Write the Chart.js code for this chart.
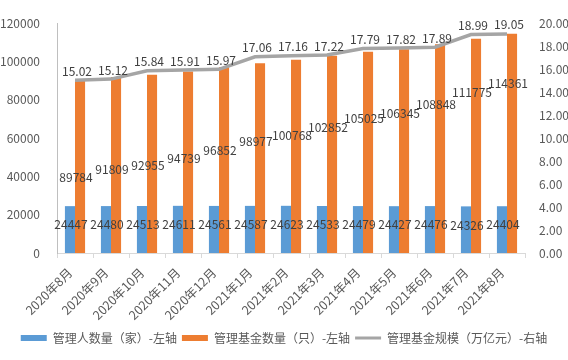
<!DOCTYPE html>
<html>
<head>
<meta charset="utf-8">
<script src="https://cdn.jsdelivr.net/npm/chart.js@4/dist/chart.umd.min.js"></script>
<style>
  html, body { margin: 0; padding: 0; background: #fff; }
  #wrap { width: 568px; height: 360px; }
</style>
</head>
<body>
<div id="wrap"><canvas id="chart"></canvas></div>
<script>
// data
const months = ['2020年8月', '2020年9月', '2020年10月', '2020年11月', '2020年12月', '2021年1月',
  '2021年2月', '2021年3月', '2021年4月', '2021年5月', '2021年6月', '2021年7月', '2021年8月'];
const managerCount = [24447, 24480, 24513, 24611, 24561, 24587, 24623, 24533, 24479, 24427, 24476, 24326, 24404];
const fundCount = [89784, 91809, 92955, 94739, 96852, 98977, 100768, 102852, 105025, 106345, 108848, 111775, 114361];
const fundScale = [15.02, 15.12, 15.84, 15.91, 15.97, 17.06, 17.16, 17.22, 17.79, 17.82, 17.89, 18.99, 19.05];
const seriesNames = ['管理人数量（家）-左轴', '管理基金数量（只）-左轴', '管理基金规模（万亿元）-右轴'];

const FONT = '"Noto Sans CJK SC", "Noto Sans", sans-serif';
const TEXT = '#595959';

// value labels, placed roughly where the original has them
const labelPlugin = {
  id: 'valueLabels',
  afterDatasetsDraw(chart) {
    const {ctx, scales: {x, y}} = chart;
    ctx.save();
    ctx.font = '12px ' + FONT;
    ctx.fillStyle = '#404040';
    ctx.textAlign = 'center';
    ctx.textBaseline = 'middle';

    chart.getDatasetMeta(0).data.forEach((bar, i) => {
      ctx.fillText(String(managerCount[i]), bar.x + 1, y.getPixelForValue(managerCount[i] * 0.6));
    });
    chart.getDatasetMeta(1).data.forEach((bar, i) => {
      ctx.fillText(String(fundCount[i]), x.getPixelForValue(i) + 1, y.getPixelForValue(fundCount[i] * 2 - 140000));
    });
    ctx.textBaseline = 'bottom';
    chart.getDatasetMeta(2).data.forEach((pt, i) => {
      ctx.fillText(fundScale[i].toFixed(2), pt.x + 2, pt.y - 3);
    });
    ctx.restore();
  }
};

const ctx = document.getElementById('chart');
new Chart(ctx, {
  type: 'bar',
  data: {
    labels: months,
    datasets: [
      {
        label: seriesNames[0],
        data: managerCount,
        backgroundColor: '#5B9BD5',
        yAxisID: 'y',
        order: 2,
        categoryPercentage: 0.56,
        barPercentage: 1
      },
      {
        label: seriesNames[1],
        data: fundCount,
        backgroundColor: '#ED7D31',
        yAxisID: 'y',
        order: 2,
        categoryPercentage: 0.56,
        barPercentage: 1
      },
      {
        type: 'line',
        label: seriesNames[2],
        data: fundScale,
        borderColor: '#A5A5A5',
        backgroundColor: '#A5A5A5',
        borderWidth: 3.5,
        pointRadius: 0,
        yAxisID: 'y1',
        order: 1
      }
    ]
  },
  options: {
    responsive: true,
    maintainAspectRatio: false,
    animation: false,
    layout: {padding: {top: 23, left: 0, right: 0, bottom: 6}},
    scales: {
      x: {
        grid: {display: true, drawOnChartArea: false, tickLength: 5, color: '#D9D9D9'},
        border: {color: '#D9D9D9'},
        ticks: {
          color: TEXT, font: {family: FONT, size: 12.5},
          minRotation: 45, maxRotation: 45, padding: 7, labelOffset: -5
        },
        afterFit(scale) { scale.height = 74; }
      },
      y: {
        position: 'left',
        min: 0, max: 120000,
        grid: {display: false},
        border: {display: true, color: '#BFBFBF'},
        ticks: {
          stepSize: 20000, color: TEXT, font: {family: FONT, size: 12}, padding: 9,
          callback: v => String(v)
        },
        afterFit(scale) { scale.width = 57; }
      },
      y1: {
        position: 'right',
        min: 0, max: 20,
        grid: {display: false},
        border: {display: false},
        ticks: {
          stepSize: 2, color: TEXT, font: {family: FONT, size: 12}, padding: 6,
          callback: v => v.toFixed(2)
        },
        afterFit(scale) { scale.width = 43; }
      }
    },
    plugins: {
      legend: {
        position: 'bottom',
        labels: {
          color: TEXT,
          font: {family: FONT, size: 12},
          boxWidth: 26,
          boxHeight: 6,
          padding: 5,
          usePointStyle: true,
          pointStyleWidth: 26,
          sort: (a, b) => a.datasetIndex - b.datasetIndex,
          generateLabels(chart) {
            const items = Chart.defaults.plugins.legend.labels.generateLabels(chart);
            items.forEach(item => {
              if (item.datasetIndex === 2) {
                item.pointStyle = 'line';
                item.lineWidth = 3;
                item.strokeStyle = '#A5A5A5';
              } else {
                item.pointStyle = 'rect';
                item.lineWidth = 0;
              }
            });
            return items;
          }
        }
      },
      tooltip: {enabled: false}
    }
  },
  plugins: [labelPlugin]
});
</script>
</body>
</html>
